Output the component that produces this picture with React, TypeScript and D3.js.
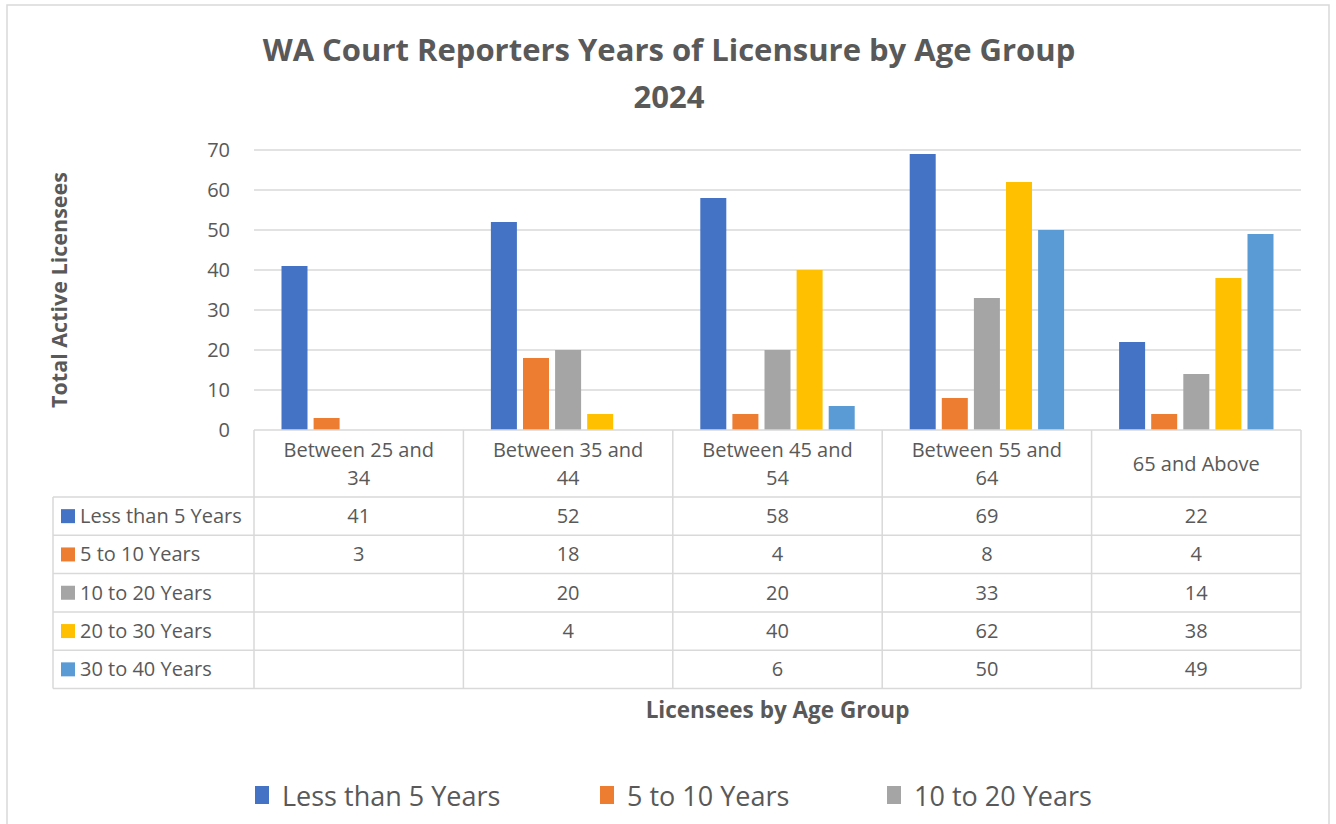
import React from "react";
import * as d3 from "d3";

const categories = ["Between 25 and 34", "Between 35 and 44", "Between 45 and 54", "Between 55 and 64", "65 and Above"];
const categoryLines = [["Between 25 and", "34"], ["Between 35 and", "44"], ["Between 45 and", "54"], ["Between 55 and", "64"], ["65 and Above"]];
const seriesNames = ["Less than 5 Years", "5 to 10 Years", "10 to 20 Years", "20 to 30 Years", "30 to 40 Years"];
const seriesColors = ["#4472C4", "#ED7D31", "#A5A5A5", "#FFC000", "#5B9BD5"];
const lessThan5 = [41, 52, 58, 69, 22];
const fiveTo10 = [3, 18, 4, 8, 4];
const tenTo20: (number | null)[] = [null, 20, 20, 33, 14];
const twentyTo30: (number | null)[] = [null, 4, 40, 62, 38];
const thirtyTo40: (number | null)[] = [null, null, 6, 50, 49];
const seriesValues: (number | null)[][] = [lessThan5, fiveTo10, tenTo20, twentyTo30, thirtyTo40];
const yTicks = [0, 10, 20, 30, 40, 50, 60, 70];
const legendShown = [0, 1, 2];

const W = 1336, H = 824;
const left = 254, right = 1301, top = 150, bottom = 430;
const font = "'Open Sans', sans-serif";
const textColor = "#595959";
const gridColor = "#D9D9D9";

export default function App() {
  const x0 = d3.scaleBand<string>().domain(categories).range([left, right]).paddingInner(0).paddingOuter(0);
  const inner = x0.bandwidth();
  const groupPad = 27.5;
  const x1 = d3.scaleBand<string>().domain(seriesNames).range([groupPad, inner - groupPad]).paddingInner(0.19);
  const y = d3.scaleLinear().domain([0, 70]).range([bottom, top]);

  const headerBottom = 497;
  const rowH = 38.3;
  const tableLeft = 53;
  const rowYs = seriesNames.map((_, i) => headerBottom + i * rowH);
  const tableBottom = headerBottom + seriesNames.length * rowH;
  const legendX = [255, 600, 887];
  const fs = 20;

  return (
    <svg width={W} height={H} style={{ position: "absolute", left: 0, top: 0, background: "#fff" }} fontFamily={font}>
      <rect x={0} y={0} width={W} height={H} fill="#fff" />
      <rect x={7} y={5} width={1322} height={H + 20} fill="none" stroke={gridColor} strokeWidth={1.5} />
      <text x={669} y={61} textAnchor="middle" fontSize={31} fontWeight="bold" fill={textColor}>WA Court Reporters Years of Licensure by Age Group</text>
      <text x={669} y={108} textAnchor="middle" fontSize={31} fontWeight="bold" fill={textColor}>2024</text>

      {yTicks.map(t => (
        <g key={t}>
          {t > 0 && <line x1={left} x2={right} y1={y(t)} y2={y(t)} stroke={gridColor} strokeWidth={1.5} />}
          <text x={230} y={y(t) + 7} textAnchor="end" fontSize={fs} fill={textColor}>{t}</text>
        </g>
      ))}

      {categories.map((c, ci) => (
        <g key={c}>
          {seriesValues.map((vals, si) => {
            const v = vals[ci];
            if (v == null) return null;
            return <rect key={si} x={x0(c)! + x1(seriesNames[si])!} y={y(v)} width={x1.bandwidth()} height={y(0) - y(v)} fill={seriesColors[si]} />;
          })}
        </g>
      ))}

      <text transform={`translate(67,${(top + bottom) / 2}) rotate(-90)`} textAnchor="middle" fontSize={21.5} fontWeight="bold" fill={textColor}>Total Active Licensees</text>

      {/* table */}
      <g stroke={gridColor} strokeWidth={1.5} fill="none">
        <line x1={left} x2={right} y1={bottom} y2={bottom} />
        <line x1={tableLeft} x2={right} y1={headerBottom} y2={headerBottom} />
        {rowYs.map((ry, i) => <line key={i} x1={tableLeft} x2={right} y1={ry + rowH} y2={ry + rowH} />)}
        <line x1={tableLeft} x2={tableLeft} y1={headerBottom} y2={tableBottom} />
        {categories.map(c => <line key={c} x1={x0(c)!} x2={x0(c)!} y1={bottom} y2={tableBottom} />)}
        <line x1={right} x2={right} y1={bottom} y2={tableBottom} />
      </g>
      {categories.map((c, ci) => {
        const lines = categoryLines[ci];
        const cx = x0(c)! + inner / 2;
        const mid = (bottom + headerBottom) / 2;
        return (
          <g key={c}>
            {lines.map((l, li) => (
              <text key={li} x={cx} y={mid + 7 + (li - (lines.length - 1) / 2) * 28} textAnchor="middle" fontSize={fs} fill={textColor}>{l}</text>
            ))}
          </g>
        );
      })}
      {seriesNames.map((s, si) => (
        <g key={s}>
          <rect x={61} y={rowYs[si] + rowH / 2 - 7} width={14} height={14} fill={seriesColors[si]} />
          <text x={80} y={rowYs[si] + rowH / 2 + 7} fontSize={fs} fill={textColor}>{s}</text>
          {categories.map((c, ci) => {
            const v = seriesValues[si][ci];
            if (v == null) return null;
            return <text key={c} x={x0(c)! + inner / 2} y={rowYs[si] + rowH / 2 + 7} textAnchor="middle" fontSize={fs} fill={textColor}>{v}</text>;
          })}
        </g>
      ))}

      <text x={(left + right) / 2} y={718} textAnchor="middle" fontSize={22.5} fontWeight="bold" fill={textColor}>Licensees by Age Group</text>

      {/* legend */}
      {legendShown.map((si, i) => (
        <g key={si}>
          <rect x={legendX[i]} y={786} width={14} height={18} fill={seriesColors[si]} />
          <text x={legendX[i] + 27} y={806} fontSize={27} fill={textColor}>{seriesNames[si]}</text>
        </g>
      ))}
    </svg>
  );
}
